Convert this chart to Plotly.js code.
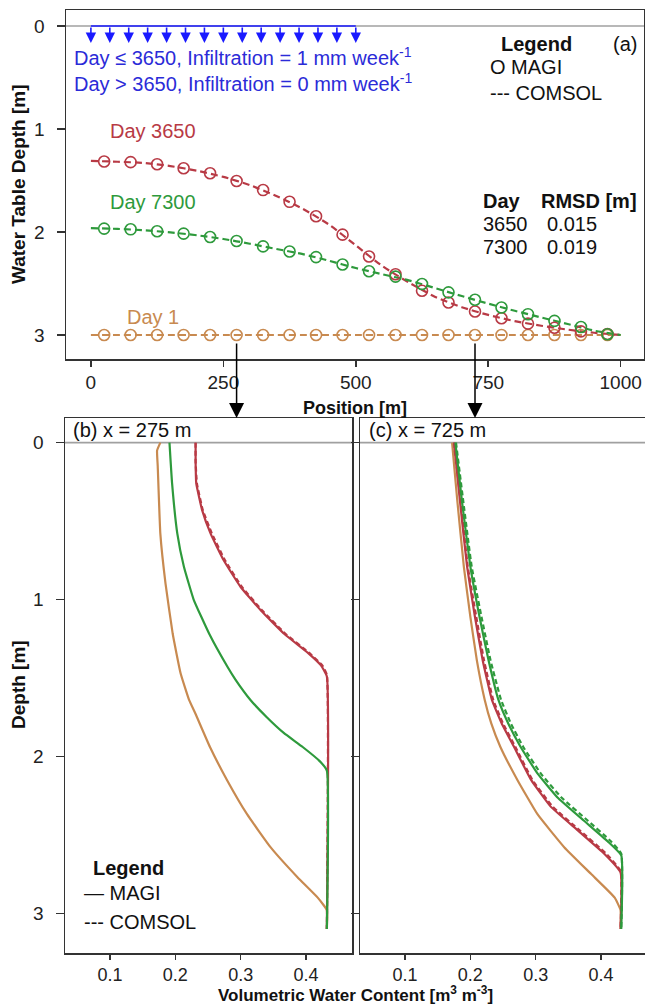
<!DOCTYPE html>
<html><head><meta charset="utf-8">
<script src="https://cdn.plot.ly/plotly-3.0.1.min.js"></script>
<style>html,body{margin:0;padding:0;background:#fff}#chart{width:645px;height:1007px}</style>
</head><body><div id="chart"></div>
<script>
// ---------- Panel (a): water table depth vs position ----------
const positionMagi = [25,75,125,175,225,275,325,375,425,475,525,575,625,675,725,775,825,875,925,975];
const wtMagiDay1    = [3,3,3,3,3,3,3,3,3,3,3,3,3,3,3,3,3,3,3,3];
const wtMagiDay3650 = [1.316,1.322,1.342,1.381,1.43,1.505,1.593,1.707,1.847,2.026,2.238,2.41,2.57,2.684,2.772,2.837,2.89,2.93,2.965,2.99];
const wtMagiDay7300 = [1.967,1.974,1.993,2.016,2.049,2.088,2.14,2.189,2.244,2.316,2.381,2.433,2.505,2.586,2.658,2.733,2.798,2.863,2.922,2.993];

const positionComsol = [0,50,100,150,200,250,300,350,400,450,500,550,600,650,700,750,800,850,900,950,1000];
const wtComsolDay1    = [3,3,3,3,3,3,3,3,3,3,3,3,3,3,3,3,3,3,3,3,3];
const wtComsolDay3650 = [1.31,1.318,1.33,1.36,1.405,1.465,1.545,1.65,1.775,1.93,2.13,2.33,2.49,2.63,2.73,2.805,2.865,2.91,2.948,2.978,3.0];
const wtComsolDay7300 = [1.963,1.97,1.983,2.004,2.032,2.068,2.114,2.165,2.215,2.28,2.35,2.41,2.47,2.545,2.622,2.695,2.765,2.83,2.893,2.958,3.0];

const infiltrationX = [0,35.7,71.4,107.1,142.9,178.6,214.3,250,285.7,321.4,357.1,392.9,428.6,464.3,500];
const profilePositions = [275, 725];

const rmsdDays = ['3650','7300'];
const rmsdValues = ['0.015','0.019'];

// ---------- Panel (b): x = 275 m ----------
const bDay1Depth  = [0,0.05,0.15,0.58,0.9,1.22,1.47,1.64,1.73,1.94,2.15,2.37,2.58,2.77,2.9,2.98,3.1];
const bDay1Theta  = [0.177,0.172,0.173,0.177,0.185,0.196,0.208,0.221,0.231,0.253,0.279,0.31,0.346,0.387,0.418,0.432,0.432];
const bDay3650Depth = [0,0.12,0.26,0.43,0.58,0.75,0.92,1.07,1.22,1.34,1.42,1.49,3.1];
const bDay3650Theta = [0.231,0.231,0.232,0.241,0.254,0.274,0.3,0.331,0.367,0.403,0.423,0.432,0.432];
const bDay7300Depth = [0,0.26,0.58,0.79,1.0,1.22,1.43,1.51,1.64,1.75,1.85,1.94,2.03,2.09,3.1];
const bDay7300Theta = [0.191,0.195,0.203,0.213,0.228,0.252,0.28,0.292,0.315,0.34,0.366,0.395,0.421,0.432,0.432];
const bComsol3650Depth = [0,0.12,0.26,0.43,0.58,0.75,0.92,1.07,1.22,1.34,1.42,1.48,3.1];
const bComsol3650Theta = [0.231,0.231,0.233,0.242,0.256,0.276,0.302,0.333,0.369,0.405,0.425,0.432,0.432];

// ---------- Panel (c): x = 725 m ----------
const cDay1Depth  = [0,0.37,0.79,1.11,1.39,1.64,1.79,1.94,2.15,2.37,2.58,2.75,2.9,2.98,3.1];
const cDay1Theta  = [0.172,0.18,0.19,0.2,0.21,0.222,0.232,0.246,0.272,0.303,0.344,0.385,0.421,0.43,0.43];
const cDay3650Depth = [0,0.37,0.79,1.11,1.39,1.64,1.79,1.94,2.15,2.32,2.47,2.62,2.74,3.1];
const cDay3650Theta = [0.175,0.184,0.195,0.207,0.219,0.233,0.248,0.267,0.293,0.323,0.364,0.405,0.43,0.43];
const cDay7300Depth = [0,0.37,0.79,1.11,1.39,1.64,1.79,1.94,2.11,2.26,2.41,2.54,2.63,3.1];
const cDay7300Theta = [0.177,0.187,0.2,0.214,0.228,0.243,0.258,0.277,0.303,0.333,0.374,0.41,0.431,0.431];
const cComsol7300Depth = [0,0.37,0.79,1.11,1.39,1.64,1.79,1.94,2.11,2.26,2.41,2.54,2.62,3.1];
const cComsol7300Theta = [0.178,0.189,0.202,0.217,0.231,0.247,0.262,0.281,0.308,0.339,0.38,0.415,0.431,0.431];
const cComsol3650Depth = [0,0.37,0.79,1.11,1.39,1.64,1.79,1.94,2.15,2.32,2.47,2.62,2.73,3.1];
const cComsol3650Theta = [0.175,0.185,0.196,0.209,0.221,0.235,0.25,0.269,0.295,0.326,0.367,0.408,0.43,0.43];

// ---------- styles ----------
const RED = '#b83a45', GREEN = '#2e9a3c', ORANGE = '#c88a50';
const BLUE_TXT = '#2b2bd8', BLUE = '#1a1aff';
const FONT = 'Liberation Sans, Arial, Helvetica, sans-serif';
const FS = 20, TFS = 19;
const W = 645, H = 1007;
const px = v => v / W, py = v => 1 - v / H;

const traces = [];
function magi(x, y, c) {
  traces.push({x, y, type:'scatter', mode:'markers', xaxis:'x', yaxis:'y', hoverinfo:'skip',
    marker:{symbol:'circle-open', size:11, color:c, line:{width:1.6, color:c}}});
}
function comsol(x, y, c) {
  traces.push({x, y, type:'scatter', mode:'lines', xaxis:'x', yaxis:'y', hoverinfo:'skip',
    line:{color:c, width:2.2, dash:'7px,4px', shape:'spline', smoothing:0.6}});
}
comsol(positionComsol, wtComsolDay1, ORANGE);
comsol(positionComsol, wtComsolDay3650, RED);
comsol(positionComsol, wtComsolDay7300, GREEN);
magi(positionMagi, wtMagiDay1, ORANGE);
magi(positionMagi, wtMagiDay3650, RED);
magi(positionMagi, wtMagiDay7300, GREEN);

function prof(x, y, c, ax, ay, dashed) {
  traces.push({x, y, type:'scatter', mode:'lines', xaxis:ax, yaxis:ay, hoverinfo:'skip',
    line:{color:c, width:2.2, dash: dashed ? '5px,3px' : 'solid', shape:'spline', smoothing:0.35}});
}
prof(bDay1Theta, bDay1Depth, ORANGE, 'x2', 'y2');
prof(bComsol3650Theta, bComsol3650Depth, RED, 'x2', 'y2', true);
prof(bDay3650Theta, bDay3650Depth, RED, 'x2', 'y2');
prof(bDay7300Theta, bDay7300Depth, GREEN, 'x2', 'y2');
prof(cDay1Theta, cDay1Depth, ORANGE, 'x3', 'y3');
prof(cComsol3650Theta, cComsol3650Depth, RED, 'x3', 'y3', true);
prof(cDay3650Theta, cDay3650Depth, RED, 'x3', 'y3');
prof(cComsol7300Theta, cComsol7300Depth, GREEN, 'x3', 'y3', true);
prof(cDay7300Theta, cDay7300Depth, GREEN, 'x3', 'y3');

const axBase = {showline:true, mirror:true, linecolor:'#333', linewidth:1.5, ticks:'outside',
  ticklen:8, tickwidth:1.5, tickcolor:'#333', showgrid:false, zeroline:false,
  tickfont:{family:FONT, size:TFS, color:'#222'}, fixedrange:true};

const annotations = [];
function txt(text, x, y, opts) {
  annotations.push(Object.assign({text, x:px(x), y:py(y), xref:'paper', yref:'paper', showarrow:false,
    xanchor:'left', yanchor:'middle', font:{family:FONT, size:FS, color:'#111'}}, opts||{}));
}
// axis titles
txt('<b>Water Table Depth [m]</b>', 18, 184, {xanchor:'center', textangle:-90, font:{family:FONT,size:19,color:'#111'}});
txt('<b>Position [m]</b>', 355, 408, {xanchor:'center', font:{family:FONT,size:18,color:'#111'}});
txt('<b>Depth [m]</b>', 18, 685, {xanchor:'center', textangle:-90, font:{family:FONT,size:19,color:'#111'}});
txt('<b>Volumetric Water Content [m<sup>3</sup> m<sup>-3</sup>]</b>', 355, 1007, {xanchor:'center', yanchor:'bottom', font:{family:FONT,size:17,color:'#111'}});
// panel a texts
txt('Day ≤ 3650, Infiltration = 1 mm week<sup>-1</sup>', 72, 57, {font:{family:FONT,size:FS,color:BLUE_TXT}});
txt('Day > 3650, Infiltration = 0 mm week<sup>-1</sup>', 72, 83, {font:{family:FONT,size:FS,color:BLUE_TXT}});
txt('<b>Legend</b>', 536, 44, {xanchor:'center'});
txt('(a)', 625, 44, {xanchor:'center'});
txt('O MAGI', 488, 67);
txt('--- COMSOL', 488, 93);
txt('Day 3650', 108, 131, {font:{family:FONT,size:FS,color:RED}});
txt('Day 7300', 108, 202, {font:{family:FONT,size:FS,color:GREEN}});
txt('Day 1', 125, 317, {font:{family:FONT,size:FS,color:ORANGE}});
txt('<b>Day</b>', 481, 201);
txt('<b>RMSD [m]</b>', 539, 201);
rmsdDays.forEach((d,i) => {
  txt(d, 481, 224 + 23*i);
  txt(rmsdValues[i], 545, 224 + 23*i);
});
// panel b/c labels
txt('(b) x = ' + profilePositions[0] + ' m', 71, 430);
txt('(c) x = ' + profilePositions[1] + ' m', 367, 430);
// bottom legend
txt('<b>Legend</b>', 128, 868, {xanchor:'center'});
txt('— MAGI', 82, 893);
txt('--- COMSOL', 82, 922);

// infiltration arrows
infiltrationX.forEach(xv => {
  annotations.push({x:xv, y:0.165, xref:'x', yref:'y', ax:xv, ay:0, axref:'x', ayref:'y', text:'',
    showarrow:true, arrowhead:2, arrowsize:1.3, arrowwidth:1.6, arrowcolor:BLUE, standoff:0});
});
// location arrows from panel a to panels b, c
profilePositions.forEach(xv => {
  annotations.push({x:xv, y:py(418), xref:'x', yref:'paper', ax:0, ay:-76, text:'',
    showarrow:true, arrowhead:2, arrowsize:2, arrowwidth:1.5, arrowcolor:'#000', standoff:0});
});

const shapes = [
  {type:'line', xref:'x domain', yref:'y', x0:0, x1:1, y0:0, y1:0, line:{color:'#a0a0a0', width:1.6}, layer:'below'},
  {type:'line', xref:'x2 domain', yref:'y2', x0:0, x1:1, y0:0, y1:0, line:{color:'#a0a0a0', width:1.6}, layer:'below'},
  {type:'line', xref:'x3 domain', yref:'y3', x0:0, x1:1, y0:0, y1:0, line:{color:'#a0a0a0', width:1.6}, layer:'below'},
  {type:'line', xref:'x', yref:'y', x0:infiltrationX[0], x1:infiltrationX[infiltrationX.length-1], y0:0, y1:0, line:{color:BLUE, width:1.6}}
];

const bottomX = {tickvals:[0.1,0.2,0.3,0.4], ticktext:['0.1','0.2','0.3','0.4'], ticklen:5, ticklabelstandoff:0,
  tickfont:{family:FONT, size:18, color:'#222'}};

const layout = {
  width:W, height:H, margin:{l:0,r:0,t:0,b:0}, showlegend:false,
  paper_bgcolor:'#fff', plot_bgcolor:'#fff', font:{family:FONT, size:FS},
  xaxis: Object.assign({}, axBase, {domain:[px(66), px(644)], anchor:'y', range:[-47,1044],
    tickvals:[0,250,500,750,1000], ticklen:6, ticklabelstandoff:0}),
  yaxis: Object.assign({}, axBase, {domain:[py(359), py(10)], anchor:'x', range:[3.233,-0.155],
    tickvals:[0,1,2,3], ticklabelstandoff:8}),
  xaxis2: Object.assign({}, axBase, bottomX, {domain:[px(65), px(352)], anchor:'y2', range:[0.031,0.4705]}),
  yaxis2: Object.assign({}, axBase, {domain:[py(953), py(418)], anchor:'x2', range:[3.253,-0.157],
    tickvals:[0,1,2,3], ticklabelstandoff:8}),
  xaxis3: Object.assign({}, axBase, bottomX, {domain:[px(360), 1], anchor:'y3', range:[0.031,0.4674]}),
  yaxis3: Object.assign({}, axBase, {domain:[py(953), py(418)], anchor:'x3', range:[3.253,-0.157],
    tickvals:[0,1,2,3], showticklabels:false}),
  annotations, shapes
};

Plotly.newPlot('chart', traces, layout, {staticPlot:true, displayModeBar:false});
</script>
</body></html>
